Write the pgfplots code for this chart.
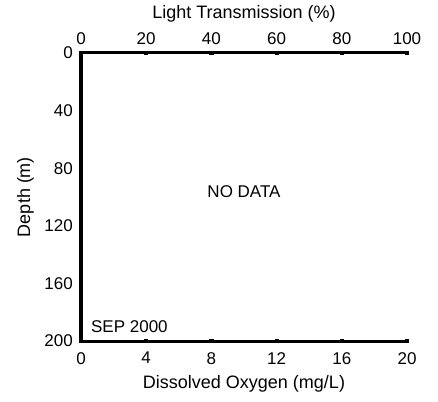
\documentclass[border=0pt]{standalone}
\usepackage{pgfplots}
\pgfplotsset{compat=1.18}
\usepackage{fontspec}
\setmainfont{Liberation Sans}
\begin{document}
\begin{tikzpicture}
\useasboundingbox (0,0) rectangle (438bp,402bp);
\pgfplotsset{
  common/.style={
    at={(81bp,61bp)}, anchor=south west,
    scale only axis, width=326bp, height=288bp,
    ymin=0, ymax=200, y dir=reverse,
    axis line style={line width=3bp, -},
    tick style={line width=4.2bp, black},
    major tick length=4bp, tick align=center,
    /pgf/number format/assume math mode=true,
    ticklabel style={font=\fontsize{17bp}{20bp}\selectfont},
    clip=false,
  }
}
\begin{axis}[common,
  xmin=0, xmax=20,
  axis x line*=bottom, axis y line*=left,
  xtick={0,4,8,12,16,20},
  ytick={0,40,80,120,160,200},
  xticklabel style={anchor=north, inner sep=0pt, yshift=-9bp},
  yticklabel style={anchor=east, inner sep=0pt, xshift=-6bp},
]
\addplot[draw=none] coordinates {(0,0)};
\node[anchor=base, font=\fontsize{17bp}{20bp}\selectfont, inner sep=0pt] at (axis cs:10,100) {NO DATA};
\node[anchor=base west, font=\fontsize{17bp}{20bp}\selectfont, inner sep=0pt] at (axis cs:0.61,194.4) {SEP 2000};
\end{axis}
\begin{axis}[common,
  xmin=0, xmax=100,
  axis x line*=top, hide y axis,
  xtick={0,20,40,60,80,100},
  xticklabel style={anchor=south, inner sep=0pt, yshift=6bp},
]
\addplot[draw=none] coordinates {(0,0)};
\end{axis}
\node[anchor=base, inner sep=0pt, font=\fontsize{18bp}{21bp}\selectfont] at (244bp,383bp) {Light Transmission (\%)};
\node[anchor=base, inner sep=0pt, font=\fontsize{18bp}{21bp}\selectfont] at (244bp,14bp) {Dissolved Oxygen (mg/L)};
\node[anchor=base, rotate=90, inner sep=0pt, font=\fontsize{18bp}{21bp}\selectfont] at (30bp,205bp) {Depth (m)};
\end{tikzpicture}
\end{document}
